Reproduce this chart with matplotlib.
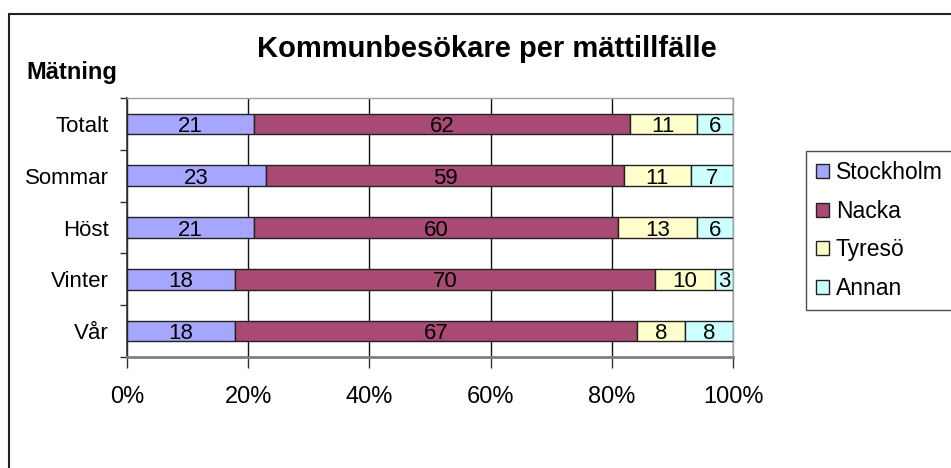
import matplotlib
matplotlib.use("Agg")
import matplotlib.pyplot as plt
from matplotlib.patches import Rectangle
from matplotlib.ticker import FuncFormatter, FixedLocator
import numpy as np

plt.rcParams['font.family'] = ['Liberation Sans', 'DejaVu Sans']

categories = ["Totalt", "Sommar", "Höst", "Vinter", "Vår"]
series_names = ["Stockholm", "Nacka", "Tyresö", "Annan"]
stockholm = [21, 23, 21, 18, 18]
nacka = [62, 59, 60, 70, 67]
tyreso = [11, 11, 13, 10, 8]
annan = [6, 7, 6, 3, 8]
colors = ["#A6A6FF", "#A84A73", "#FFFFCC", "#CCFFFF"]
x_ticks = [0, 20, 40, 60, 80, 100]

data = np.array([stockholm, nacka, tyreso, annan], dtype=float)
totals = data.sum(axis=0)
pct = data / totals * 100

fig = plt.figure(figsize=(9.51, 4.68), dpi=100)
ax = fig.add_axes([127/951, 1 - 357/468, (733 - 127)/951, (357 - 98)/468])

y = np.arange(len(categories))
left = np.zeros(len(categories))
for i, name in enumerate(series_names):
    ax.barh(y, pct[i], left=left, height=0.4, color=colors[i],
            edgecolor="#222222", linewidth=1.0, label=name, zorder=3)
    for j in range(len(categories)):
        ax.text(left[j] + pct[i][j] / 2, y[j], f"{int(data[i][j])}",
                ha="center", va="center_baseline", fontsize=16, color="black",
                zorder=4)
    left += pct[i]

ax.set_xlim(0, 100)
ax.set_ylim(len(categories) - 0.5, -0.5)
ax.set_xticks(x_ticks)
ax.xaxis.set_major_formatter(FuncFormatter(lambda v, p: f"{int(v)}%"))
ax.set_yticks(y)
ax.set_yticklabels(categories)
ax.yaxis.set_minor_locator(FixedLocator(np.arange(-0.5, len(categories), 1.0)))
ax.tick_params(axis="y", which="major", length=0, labelsize=16, pad=13)
ax.tick_params(axis="y", which="minor", length=5, width=1, color="#333333")
ax.tick_params(axis="x", which="major", length=8, width=1, color="#333333",
               labelsize=17, pad=13)

ax.grid(axis="x", color="#111111", linewidth=1.0, zorder=1)
ax.set_axisbelow(True)
for side in ["top", "right"]:
    ax.spines[side].set_color("#A0A0A0")
    ax.spines[side].set_linewidth(1.0)
ax.spines["bottom"].set_color("#808080")
ax.spines["bottom"].set_linewidth(2.0)
ax.spines["left"].set_color("#333333")
ax.spines["left"].set_linewidth(1.2)

fig.text(487/951, 1 - 49/468, "Kommunbesökare per mättillfälle", ha="center",
         va="center", fontsize=21, fontweight="bold")
fig.text(26/951, 1 - 73/468, "Mätning", ha="left", va="center",
         fontsize=17, fontweight="bold")

leg = fig.legend(loc="upper left", bbox_to_anchor=(806/951, 1 - 151/468),
                 frameon=True, fancybox=False, edgecolor="#222222",
                 fontsize=16.5, handlelength=0.55, handleheight=0.55,
                 handletextpad=0.3, labelspacing=0.68, borderpad=0.45,
                 borderaxespad=0)
leg.get_frame().set_linewidth(1.0)

fig.patches.append(Rectangle((9/951, -0.5), 2.0, 1.5 - 14/468,
                             transform=fig.transFigure, fill=False,
                             edgecolor="#222222", linewidth=1.5))

fig.savefig("out.png", dpi=100)
